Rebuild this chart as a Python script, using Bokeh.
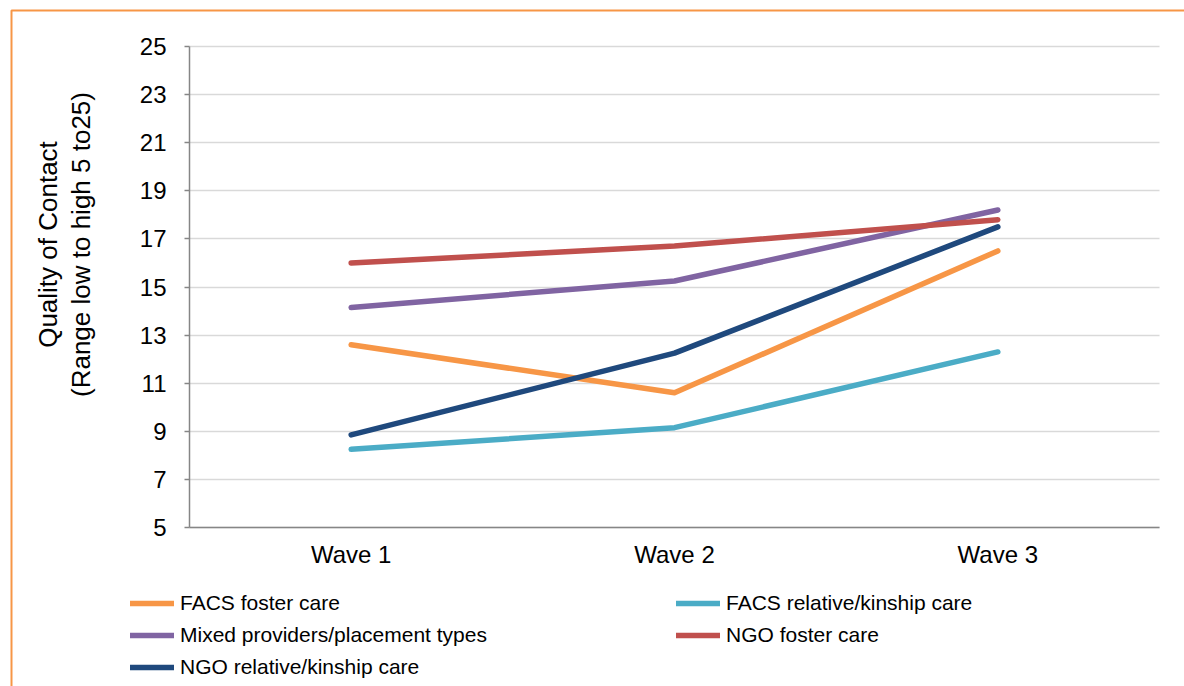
import math

from bokeh.embed import file_html
from bokeh.models import (BoxAnnotation, FixedTicker, Grid, Label, Legend,
                          LegendItem, Range1d)
from bokeh.plotting import figure
from bokeh.resources import INLINE

# --- data -----------------------------------------------------------------
waves = ["Wave 1", "Wave 2", "Wave 3"]

facs_foster = [12.6, 10.6, 16.5]
facs_relative = [8.25, 9.15, 12.3]
mixed_providers = [14.15, 15.25, 18.2]
ngo_foster = [16.0, 16.7, 17.8]
ngo_relative = [8.85, 12.25, 17.5]

series_names = [
    "FACS foster care",
    "FACS relative/kinship care",
    "Mixed providers/placement types",
    "NGO foster care",
    "NGO relative/kinship care",
]
series_values = [facs_foster, facs_relative, mixed_providers, ngo_foster, ngo_relative]
series_colors = ["#F79646", "#4BACC6", "#8064A2", "#C0504D", "#1F497D"]

y_min, y_max = 5, 25
y_ticks = [5, 7, 9, 11, 13, 15, 17, 19, 21, 23, 25]
y_title_lines = ["Quality of Contact", "(Range low to high 5 to25)"]

FONT = "Liberation Sans"
W, H = 1184, 686

# plot-area placement on the canvas (pixels)
AREA_LEFT, AREA_RIGHT, AREA_TOP, AREA_BOTTOM = 189, 1159, 46, 527

# category slots: each wave sits in the middle of a unit-wide slot
x_pos = [i + 0.5 for i in range(len(waves))]
n_slots = len(waves)

# the frame fills the canvas; ranges are chosen so the plot area lands
# at the placement above and the legend / titles can sit around it
px_per_x = (AREA_RIGHT - AREA_LEFT) / n_slots
px_per_y = (AREA_BOTTOM - AREA_TOP) / (y_max - y_min)
x_range = Range1d(-AREA_LEFT / px_per_x, n_slots + (W - AREA_RIGHT) / px_per_x)
y_range = Range1d(y_min - (H - AREA_BOTTOM) / px_per_y, y_max + AREA_TOP / px_per_y)

p = figure(
    width=W, height=H, x_range=x_range, y_range=y_range,
    output_backend="svg", toolbar_location=None, min_border=0,
)
p.outline_line_color = None
p.background_fill_color = "white"
p.border_fill_color = "white"

# axes pinned to the plot-area edges
p.yaxis.fixed_location = 0
p.yaxis.bounds = (y_min, y_max)
p.yaxis.ticker = FixedTicker(ticks=y_ticks)
p.yaxis.minor_tick_line_color = None
p.yaxis.major_tick_in = 0
p.yaxis.major_tick_out = 5
p.yaxis.major_tick_line_color = "#868686"
p.yaxis.major_tick_line_width = 1.5
p.yaxis.major_label_standoff = 18

p.xaxis.fixed_location = y_min
p.xaxis.bounds = (0, n_slots)
p.xaxis.ticker = FixedTicker(ticks=x_pos)
p.xaxis.major_label_overrides = {x: w for x, w in zip(x_pos, waves)}
p.xaxis.major_tick_line_color = None
p.xaxis.minor_tick_line_color = None
p.xaxis.major_label_standoff = 7

for ax in (p.xaxis, p.yaxis):
    ax.axis_line_color = "#868686"
    ax.axis_line_width = 1.5
    ax.major_label_text_font = FONT
    ax.major_label_text_font_size = "24px"
    ax.major_label_text_color = "#000000"

# horizontal gridlines across the plot area only
p.xgrid.grid_line_color = None
if "cross_bounds" in Grid.properties():
    p.ygrid.ticker = FixedTicker(ticks=y_ticks)
    p.ygrid.cross_bounds = (0, n_slots)
    p.ygrid.grid_line_color = "#D9D9D9"
    p.ygrid.grid_line_width = 1.5
else:
    p.ygrid.grid_line_color = None
    p.segment(x0=0, x1=n_slots, y0=y_ticks, y1=y_ticks,
              line_color="#D9D9D9", line_width=1.5)

# series lines
renderers = []
for vals, col in zip(series_values, series_colors):
    r = p.line(x_pos, vals, line_color=col, line_width=5.5,
               line_cap="round", line_join="round")
    renderers.append(r)

# y-axis title, two rotated lines
for sx, txt in zip([47, 80], y_title_lines):
    p.add_layout(Label(
        x=sx, y=H - 244, x_units="screen", y_units="screen", text=txt,
        angle=math.pi / 2, text_align="center", text_baseline="middle",
        text_font=FONT, text_font_size="26px", text_color="#000000",
    ))


# legend in two columns under the plot area
def add_legend(idx, sx, top):
    leg = Legend(
        items=[LegendItem(label=series_names[i], renderers=[renderers[i]]) for i in idx],
        location=(sx, H - top - 32 * len(idx)), orientation="vertical",
        glyph_width=44, glyph_height=32, label_height=32,
        label_standoff=6, spacing=0, padding=0, margin=0,
        border_line_color=None, background_fill_alpha=0,
        label_text_font=FONT, label_text_font_size="21px",
        label_text_color="#000000",
    )
    p.add_layout(leg, "center")


add_legend([0, 2, 4], 130, 587)
add_legend([1, 3], 676, 587)

# outer frame line (top and left edges fall inside the canvas)
p.add_layout(BoxAnnotation(
    left=11, right=W + 50, top=H - 10, bottom=-50,
    left_units="screen", right_units="screen",
    top_units="screen", bottom_units="screen",
    fill_alpha=0, line_color="#F79646", line_alpha=1.0, line_width=2,
))

open("out.html", "w").write(file_html(p, INLINE))
